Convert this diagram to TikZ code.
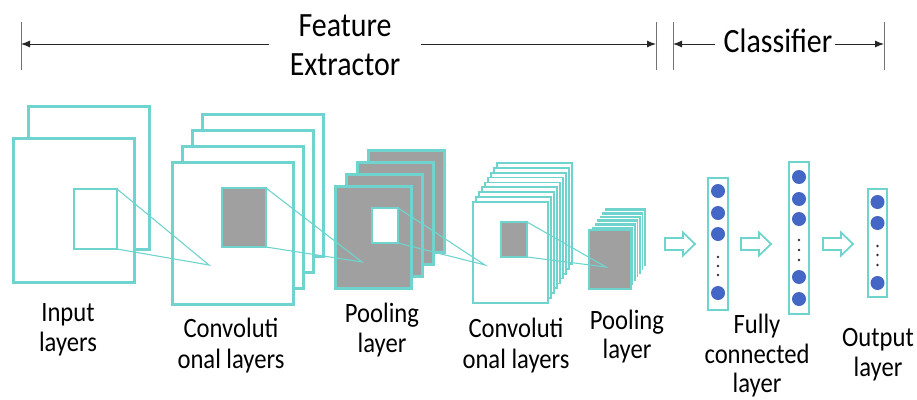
\documentclass[tikz,border=0pt]{standalone}
\usepackage{fontspec}
\setmainfont{Carlito}[FakeStretch=0.88]
\usetikzlibrary{arrows.meta}

\definecolor{cnnteal}{RGB}{112,212,206}
\definecolor{cnngray}{RGB}{160,160,160}
\definecolor{cnnblue}{RGB}{68,102,196}

\tikzset{
  layer/.style={draw=cnnteal, line width=3pt, fill=white},
  thinlayer/.style={draw=cnnteal, line width=1.8pt, fill=white},
  graylayer/.style={draw=cnnteal, line width=3pt, fill=cnngray},
  window/.style={draw=cnnteal, line width=2pt, fill=white},
  graywin/.style={draw=cnnteal, line width=2pt, fill=cnngray},
  ray/.style={draw=cnnteal, line width=1.1pt},
  column/.style={draw=cnnteal, line width=2pt, fill=white},
  dimline/.style={draw=black!85, line width=1pt, -{Latex[length=9pt,width=7pt]}},
  tickmark/.style={draw=black!55, line width=1pt},
  neuron/.style={circle, fill=cnnblue, inner sep=0pt, minimum size=14pt},
  ellip/.style={circle, fill=black!80, inner sep=0pt, minimum size=2.6pt},
  lbl/.style={anchor=base, inner sep=0pt, font=\fontsize{28}{30}\selectfont, text=black},
  title/.style={anchor=base, inner sep=0pt, font=\fontsize{34}{36}\selectfont, text=black},
  hollowarrow/.pic={
    \draw[cnnteal, line width=1.8pt, fill=white, line join=miter]
      (0,-6) -- (18,-6) -- (18,-11.5) -- (30,0) -- (18,11.5) -- (18,6) -- (0,6) -- cycle;
  }
}

\begin{document}
\begin{tikzpicture}[x=1pt, y=-1pt]
\useasboundingbox (0,0) rectangle (917,399);

% ---- section headings with dimension arrows ----
\node[title] (feat) at (345,36) {Feature};
\node[title] (extr) at (345,75) {Extractor};
\node[title] (clf)  at (778,52) {Classifier};

\coordinate (t1) at (21,44);
\coordinate (t2) at (656,44);
\coordinate (t3) at (673,44);
\coordinate (t4) at (884,44);
\coordinate (g1) at (269,44);
\coordinate (g2) at (421,44);
\coordinate (g3) at (715,44);
\coordinate (g4) at (835,44);

\foreach \t in {t1,t2,t3,t4}
  \draw[tickmark] ([yshift=-26pt]\t) -- ([yshift=22pt]\t);
\draw[dimline] (g1) -- (t1);
\draw[dimline] (g2) -- (t2);
\draw[dimline] (g3) -- (t3);
\draw[dimline] (g4) -- (t4);

% ---- input layer ----
\draw[layer] (28,106) rectangle (149,249);
\draw[layer] (13,138) rectangle (134,282);
\draw[window] (74,189) rectangle (117,249);
\coordinate (inA) at (117,189);
\coordinate (inB) at (117,249);

% ---- first convolutional stack ----
\foreach \i in {3,2,1,0}
  \draw[layer] ({172+10.3*\i},{162-15.7*\i}) rectangle ++(121,142);
\draw[graywin] (222,188) rectangle (266,247);
\coordinate (f1) at (209,265);
\coordinate (c1A) at (266,188);
\coordinate (c1B) at (266,247);
\draw[ray] (inA) -- (f1) -- (inB);

% ---- first pooling stack ----
\foreach \i in {3,2,1,0}
  \draw[graylayer] ({335+11.3*\i},{186-12*\i}) rectangle ++(76,102);
\draw[window] (372,208) rectangle (398,243);
\coordinate (f2) at (362,262);
\coordinate (p1A) at (398,208);
\coordinate (p1B) at (398,243);
\draw[ray] (c1A) -- (f2) -- (c1B);

% ---- second convolutional stack ----
\foreach \i in {8,7,...,0}
  \draw[thinlayer] ({473+3*\i},{202-4.9*\i}) rectangle ++(75,101);
\draw[graywin] (501,222) rectangle (527,257);
\coordinate (f3) at (485,265);
\coordinate (c2A) at (527,222);
\coordinate (c2B) at (527,257);
\draw[ray] (p1A) -- (f3) -- (p1B);

% ---- second pooling stack ----
\foreach \i in {6,5,4,3,2,1}
  \draw[draw=white, line width=0.6pt, fill=cnnteal] ({589+2.5*\i},{230-3.8*\i}) rectangle ++(42,59);
\draw[graywin] (589,230) rectangle ++(42,59);
\coordinate (f4) at (606,267);
\draw[ray] (c2A) -- (f4) -- (c2B);

% ---- flow arrows ----
\pic at (665,244) {hollowarrow};
\pic at (741,244) {hollowarrow};
\pic at (823,244) {hollowarrow};

% ---- fully connected layers ----
\draw[column] (708,178) rectangle (728,310);
\foreach \y [count=\k] in {191,213,234,293}
  \node[neuron] (fa\k) at (718,\y) {};
\foreach \y [count=\k] in {257,266,275}
  \node[ellip] (ea\k) at (718,\y) {};

\draw[column] (789,162) rectangle (809,314);
\foreach \y [count=\k] in {177,199,219,277,299}
  \node[neuron] (fb\k) at (799,\y) {};
\foreach \y [count=\k] in {240,250,260}
  \node[ellip] (eb\k) at (799,\y) {};

% ---- output layer ----
\draw[column] (868,189) rectangle (887,297);
\foreach \y [count=\k] in {202,223,283}
  \node[neuron] (fo\k) at (877.5,\y) {};
\foreach \y [count=\k] in {246,255,265}
  \node[ellip] (eo\k) at (877.5,\y) {};

% ---- captions ----
\node[lbl] (in1) at (68,321) {Input};
\node[lbl] (in2) at (68,351) {layers};
\node[lbl] (cv1) at (231,337) {Convoluti};
\node[lbl] (cv2) at (231,368) {onal layers};
\node[lbl] (pl1) at (382,322) {Pooling};
\node[lbl] (pl2) at (382,352) {layer};
\node[lbl] (cw1) at (516,337) {Convoluti};
\node[lbl] (cw2) at (516,368) {onal layers};
\node[lbl] (pm1) at (627,329) {Pooling};
\node[lbl] (pm2) at (627,358) {layer};
\node[lbl] (fc1) at (757,333) {Fully};
\node[lbl] (fc2) at (757,363) {connected};
\node[lbl] (fc3) at (757,392) {layer};
\node[lbl] (ou1) at (878,346) {Output};
\node[lbl] (ou2) at (878,376) {layer};
\end{tikzpicture}
\end{document}
